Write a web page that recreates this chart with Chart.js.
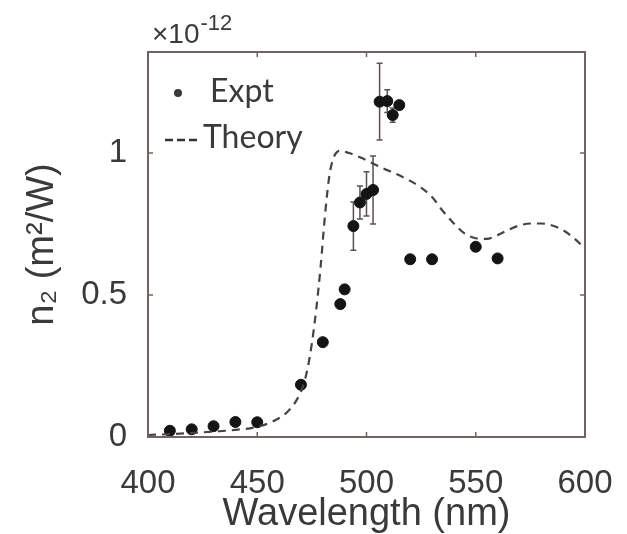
<!DOCTYPE html>
<html>
<head>
<meta charset="utf-8">
<script src="https://cdn.jsdelivr.net/npm/chart.js@4/dist/chart.umd.min.js"></script>
<style>
  html, body { margin: 0; padding: 0; background: #fff; }
  #wrap { width: 627px; height: 534px; }
</style>
</head>
<body>
<div id="wrap"><canvas id="n2-chart" width="627" height="534"></canvas></div>
<script>
// ======== DONNÉES (unités de 1e-12 m²/W) ========
const exptWavelength = [410, 420, 430, 440, 450, 470, 480, 488, 490, 494, 497, 500, 503, 506, 509.5, 512, 515, 520, 530, 550, 560];
const exptN2 = [0.022, 0.027, 0.038, 0.053, 0.052, 0.184, 0.334, 0.468, 0.52, 0.743, 0.826, 0.856, 0.870, 1.181, 1.183, 1.134, 1.169, 0.626, 0.626, 0.670, 0.629];
const exptErr = [0, 0, 0, 0, 0, 0, 0, 0, 0, 0.085, 0.058, 0.078, 0.12, 0.135, 0.04, 0.025, 0, 0, 0, 0, 0];

const theoryWavelength = [400, 410, 420, 430, 440, 450, 458, 464, 468, 471, 473, 475, 477, 479, 481, 483, 485, 488, 492, 497, 502, 508, 514, 520, 525, 530, 535, 540, 545, 550, 555, 560, 565, 570, 575, 580, 585, 590, 595, 600];
const theoryN2 = [0.007, 0.010, 0.014, 0.019, 0.025, 0.036, 0.058, 0.09, 0.13, 0.18, 0.24, 0.33, 0.45, 0.60, 0.78, 0.92, 0.985, 1.008, 1.0, 0.985, 0.967, 0.945, 0.925, 0.902, 0.878, 0.845, 0.795, 0.752, 0.716, 0.700, 0.698, 0.711, 0.730, 0.745, 0.752, 0.752, 0.745, 0.728, 0.700, 0.664];

const xTicks = [400, 450, 500, 550, 600];
const yTicks = [0, 0.5, 1];
const yMax = 1.356;

const textColor = '#3a3a3a';
const frameColor = '#6e6461';

// ======== PLUGINS ========
// Cadre + graduations vers l'intérieur sur les 4 côtés
const framePlugin = {
    id: 'frame',
    afterDraw(chart) {
        const { ctx, chartArea: a, scales } = chart;
        ctx.save();
        ctx.strokeStyle = frameColor;
        ctx.lineWidth = 2;
        ctx.strokeRect(a.left, a.top, a.right - a.left, a.bottom - a.top);
        ctx.lineWidth = 1.5;
        ctx.beginPath();
        xTicks.forEach(v => {
            const px = scales.x.getPixelForValue(v);
            ctx.moveTo(px, a.bottom); ctx.lineTo(px, a.bottom - 5);
            ctx.moveTo(px, a.top); ctx.lineTo(px, a.top + 5);
        });
        yTicks.forEach(v => {
            const py = scales.y.getPixelForValue(v);
            ctx.moveTo(a.left, py); ctx.lineTo(a.left + 5, py);
            ctx.moveTo(a.right, py); ctx.lineTo(a.right - 5, py);
        });
        ctx.stroke();

        // Facteur d'échelle ×10^-12
        ctx.fillStyle = textColor;
        ctx.textBaseline = 'alphabetic';
        ctx.font = '28px "Liberation Sans", Arial, sans-serif';
        ctx.fillText('×10', a.left + 4, a.top - 9);
        const w = ctx.measureText('×10').width;
        ctx.font = '22px "Liberation Sans", Arial, sans-serif';
        ctx.fillText('-12', a.left + 4 + w + 1, a.top - 22);

        // Légende
        ctx.font = '32px Lato, "Open Sans", sans-serif';
        ctx.beginPath();
        ctx.arc(a.left + 30, a.top + 41, 4, 0, Math.PI * 2);
        ctx.fill();
        ctx.fillText('Expt', a.left + 62, a.top + 50);
        ctx.strokeStyle = '#333';
        ctx.lineWidth = 2.5;
        ctx.setLineDash([8, 4]);
        ctx.beginPath();
        ctx.moveTo(a.left + 17, a.top + 88);
        ctx.lineTo(a.left + 53, a.top + 88);
        ctx.stroke();
        ctx.setLineDash([]);
        ctx.fillText('Theory', a.left + 55, a.top + 96);
        ctx.restore();
    }
};

// Barres d'erreur (dessinées sous les points)
const errorBarPlugin = {
    id: 'errorBars',
    beforeDatasetsDraw(chart) {
        const { ctx, scales } = chart;
        ctx.save();
        ctx.strokeStyle = '#5a524f';
        ctx.lineWidth = 1.5;
        ctx.beginPath();
        exptWavelength.forEach((wl, i) => {
            if (!exptErr[i]) return;
            const px = scales.x.getPixelForValue(wl);
            const top = scales.y.getPixelForValue(exptN2[i] + exptErr[i]);
            const bot = scales.y.getPixelForValue(exptN2[i] - exptErr[i]);
            ctx.moveTo(px, top); ctx.lineTo(px, bot);
            ctx.moveTo(px - 3, top); ctx.lineTo(px + 3, top);
            ctx.moveTo(px - 3, bot); ctx.lineTo(px + 3, bot);
        });
        ctx.stroke();
        ctx.restore();
    }
};

// ======== GRAPHIQUE ========
const ctx = document.getElementById('n2-chart');

const data = {
    datasets: [
        {
            label: 'Theory',
            type: 'line',
            data: theoryWavelength.map((x, i) => ({ x: x, y: theoryN2[i] })),
            borderColor: '#444',
            borderWidth: 2.2,
            borderDash: [8, 6],
            pointRadius: 0,
            cubicInterpolationMode: 'monotone',
            fill: false
        },
        {
            label: 'Expt',
            type: 'scatter',
            data: exptWavelength.map((x, i) => ({ x: x, y: exptN2[i] })),
            backgroundColor: '#141414',
            borderColor: '#141414',
            pointRadius: 5.5,
            pointHoverRadius: 5.5
        }
    ]
};

const tickFont = { family: '"Liberation Sans", Arial, sans-serif', size: 33 };
const titleFont = { family: '"Liberation Sans", Arial, sans-serif', size: 38, lineHeight: 1.0 };

const config = {
    type: 'scatter',
    data: data,
    options: {
        responsive: false,
        animation: false,
        devicePixelRatio: 1,
        layout: { padding: { left: 0, top: 52, right: 42, bottom: 0 } },
        plugins: {
            legend: { display: false },
            tooltip: { enabled: false }
        },
        scales: {
            x: {
                type: 'linear',
                min: 400,
                max: 600,
                afterBuildTicks: s => { s.ticks = xTicks.map(v => ({ value: v })); },
                afterFit: s => { s.height = 97; s.paddingLeft = 0; s.paddingRight = 0; },
                grid: { display: false, drawTicks: false },
                border: { display: false },
                ticks: { color: textColor, font: tickFont, padding: 27, maxRotation: 0 },
                title: { display: true, text: 'Wavelength (nm)', color: textColor, font: titleFont, padding: 0 }
            },
            y: {
                type: 'linear',
                min: 0,
                max: yMax,
                afterBuildTicks: s => { s.ticks = yTicks.map(v => ({ value: v })); },
                afterFit: s => { s.width = 148; s.paddingTop = 0; s.paddingBottom = 0; },
                grid: { display: false, drawTicks: false },
                border: { display: false },
                ticks: { color: textColor, font: tickFont, padding: 21, callback: v => String(v) },
                title: { display: true, text: 'n₂ (m²/W)', color: textColor, font: titleFont, padding: { top: 24, bottom: 0 } }
            }
        }
    },
    plugins: [errorBarPlugin, framePlugin]
};

new Chart(ctx, config);
</script>
</body>
</html>
